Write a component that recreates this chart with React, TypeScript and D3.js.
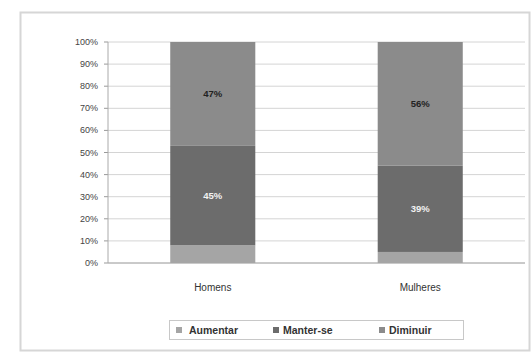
import React from "react";
import * as d3 from "d3";

const categories = ["Homens", "Mulheres"];
const seriesNames = ["Aumentar", "Manter-se", "Diminuir"];
const aumentar = [8, 5];
const manter = [45, 39];
const diminuir = [47, 56];
const yTicks = [0, 10, 20, 30, 40, 50, 60, 70, 80, 90, 100];
const colors = ["#a5a5a5", "#6c6c6c", "#8b8b8b"];

export default function App() {
  const W = 532, H = 355;
  const left = 108, right = 525, top = 42, bottom = 263;
  const y = d3.scaleLinear().domain([0, 100]).range([bottom, top]);
  const x = d3.scaleBand().domain(categories).range([left, right]).paddingInner(0.59).paddingOuter(0.3);
  const rows = categories.map((c, i) => ({ cat: c, Aumentar: aumentar[i], "Manter-se": manter[i], Diminuir: diminuir[i] }));
  const stack = d3.stack<any>().keys(seriesNames)(rows);
  const font = "Arial, 'Liberation Sans', sans-serif";
  const legendItems = [
    { x: 176, tx: 189 },
    { x: 273, tx: 283 },
    { x: 379, tx: 389 },
  ];
  return (
    <svg width={W} height={H} style={{ position: "absolute", left: 0, top: 0, background: "#fff" }}>
      <rect x={20.5} y={12.5} width={509} height={338} fill="#fff" stroke="#d6d6d6" strokeWidth={2} />
      {yTicks.map((t) => (
        <g key={t}>
          <line x1={left} x2={right} y1={y(t)} y2={y(t)} stroke="#d4d4d4" strokeWidth={1} />
          <line x1={left - 4} x2={left} y1={y(t)} y2={y(t)} stroke="#999" />
          <text x={left - 10} y={y(t) + 3} textAnchor="end" fontSize={9} fill="#444" fontFamily={font}>{t}%</text>
        </g>
      ))}
      <line x1={left} x2={left} y1={top} y2={bottom} stroke="#aaa" />
      <line x1={left} x2={right} y1={bottom} y2={bottom} stroke="#aaa" />
      {stack.map((s, si) =>
        s.map((d, i) => {
          const bx = x(categories[i])!;
          const y0 = y(d[0]), y1 = y(d[1]);
          const v = d[1] - d[0];
          return (
            <g key={si + "-" + i}>
              <rect x={bx} y={y1} width={x.bandwidth()} height={y0 - y1} fill={colors[si]} />
              {si > 0 && (
                <text x={bx + x.bandwidth() / 2} y={(y0 + y1) / 2 + 3} textAnchor="middle" fontSize={9.5} fontWeight="bold"
                  fill={si === 1 ? "#f2f2f2" : "#222"} fontFamily={font}>{v}%</text>
              )}
            </g>
          );
        })
      )}
      {categories.map((c) => (
        <text key={c} x={x(c)! + x.bandwidth() / 2} y={291} textAnchor="middle" fontSize={10} fill="#333" fontFamily={font}>{c}</text>
      ))}
      <rect x={169.5} y={320.5} width={294} height={19} fill="#fff" stroke="#c8c8c8" />
      {seriesNames.map((n, i) => (
        <g key={n}>
          <rect x={legendItems[i].x} y={327} width={6} height={6} fill={colors[i]} />
          <text x={legendItems[i].tx} y={334} fontSize={10.5} fontWeight="bold" fill="#333" fontFamily={font}>{n}</text>
        </g>
      ))}
    </svg>
  );
}
